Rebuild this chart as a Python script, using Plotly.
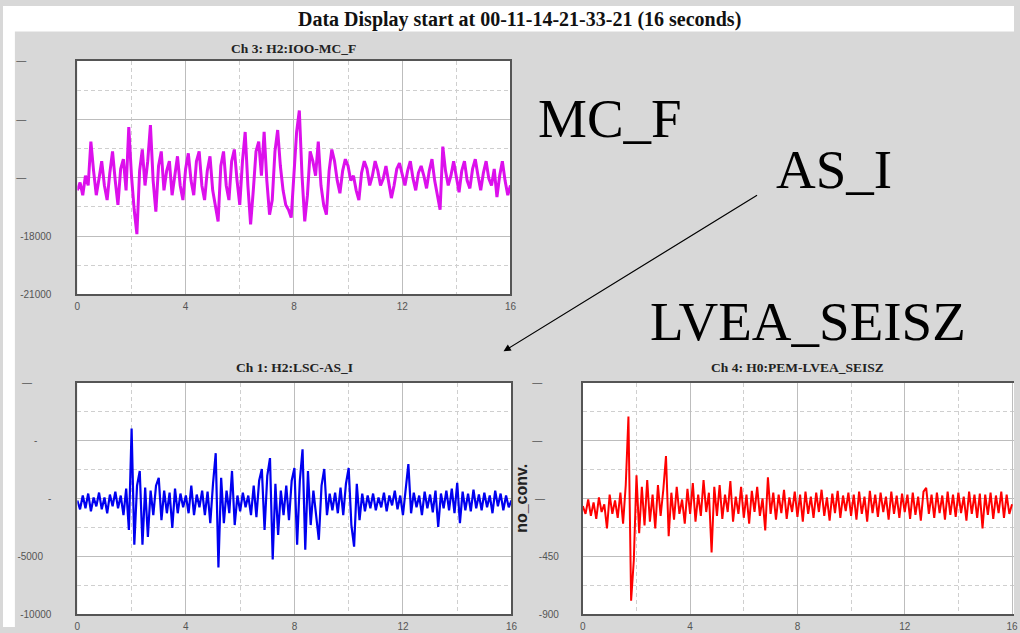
import plotly.graph_objects as go

# ---------------- data ----------------
time_s = [round(i * 0.1, 1) for i in range(161)]

mc_f = [-15650, -15250, -15900, -14900, -15400, -13150, -14650, -15900, -15050, -14150,
        -15400, -16150, -14750, -13650, -15150, -16400, -14550, -14050, -15650, -12400,
        -14900, -16650, -17900, -14650, -13550, -15400, -14150, -12300, -15150, -16750,
        -14400, -13650, -15650, -14650, -14150, -15900, -14900, -13900, -15400, -16150,
        -14550, -13750, -15150, -15900, -14150, -13650, -15400, -16150, -14650, -13900,
        -15650, -16400, -17250, -14400, -13650, -15400, -16150, -14150, -13550, -15150,
        -16400, -14150, -12650, -15400, -17400, -15650, -13650, -13150, -14900, -12650,
        -15150, -16900, -16150, -13650, -12550, -14400, -15650, -16400, -16650, -17050,
        -14900, -12650, -11550, -14900, -17250, -15900, -13650, -14150, -14900, -13150,
        -15400, -16400, -16900, -14650, -13550, -14150, -15150, -15800, -14650, -14050,
        -14400, -15150, -14900, -15650, -16150, -14750, -14150, -14550, -15400, -14900,
        -14150, -14650, -15400, -15050, -14400, -15150, -16050, -15400, -14550, -14250,
        -14900, -15400, -14650, -14150, -15050, -15650, -14750, -14400, -14900, -15550,
        -14650, -14050, -15150, -15900, -16650, -13400, -14650, -15400, -14900, -14150,
        -15050, -15750, -14650, -14150, -15150, -15550, -14550, -14050, -14900, -15650,
        -14750, -14150, -15050, -15400, -14550, -16000, -14900, -14150, -15150, -15900,
        -15400]

as_i = [-170, -935, 255, -850, 425, -1105, 85, -680, 510, -935,
        85, -1275, 340, -680, 595, -850, 255, -1445, 850, -2720,
        6035, -3995, 1105, 2380, -3995, 935, -3315, 680, -1445, 1105,
        1785, -1870, 680, -1275, 510, -2550, 850, -1275, 425, -765,
        255, -1275, 1105, -1445, 340, -765, 680, -1445, 595, -2125,
        1275, 3910, -5950, 1785, -2125, 680, -1275, 2380, -2295, 255,
        -1105, 510, -765, 255, -1445, 1105, -1615, 1530, 2550, -2720,
        1955, 3485, -5270, 1275, -3145, 680, -1445, 1105, -1870, 1530,
        2635, -3995, 1530, 4250, -4420, 2380, -2295, 680, -1445, -3570,
        1105, 2550, -1445, 425, -1020, 510, -1275, 935, -1445, 1275,
        2635, -2295, -4165, 1275, -1870, 425, -1105, 255, -850, 425,
        -1020, 85, -765, 510, -1105, 255, -595, 680, -935, 255,
        -1445, 680, 2975, -1275, 510, -765, 255, -1445, 595, -850,
        340, -1190, 680, -2465, 425, -850, 680, -1020, 850, -1275,
        1360, -2125, 595, -1020, 425, -1105, 765, -850, 340, -1020,
        510, -765, 255, -1275, 680, -680, 425, -1020, 255, -765,
        -170]

lvea_seisz = [-60, -120, -8, -135, -30, -158, 8, -105, -45, -233,
              30, -120, -15, -150, 45, -195, 105, 638, -795, -480,
              180, -270, 90, -210, 143, -180, 30, -233, 105, -135,
              68, 330, -293, 45, -165, 90, -120, -8, -195, 75,
              -120, 120, -180, 30, -135, 143, -105, 45, -420, 90,
              -135, 105, -158, 30, -105, 135, -180, 15, -120, 90,
              -150, 30, -195, 60, -105, 90, -135, 0, -248, 165,
              -120, 45, -165, 30, -113, 68, -158, 8, -105, 53,
              -143, 30, -180, 53, -120, 15, -150, 45, -105, 68,
              -135, 8, -173, 38, -113, 60, -150, 23, -98, 45,
              -135, 30, -165, 53, -120, 15, -180, 60, -113, 30,
              -143, 45, -105, 15, -165, 53, -120, 23, -150, 38,
              -105, 30, -158, 45, -128, 15, -173, 53, 83, -120,
              30, -150, 45, -113, 23, -165, 53, -128, 30, -143,
              45, -113, 15, -173, 53, -120, 30, -150, 38, -233,
              30, -128, 45, -158, 23, -113, 53, -150, 30, -120,
              -45]

x_ticks = [0, 4, 8, 12, 16]
x_ticktext = ["0", "4", "8", "12", "16"]

NB = "\u00a0"
top_yticks = [-21000, -18000, -15000, -12000, -9000]
top_yticktext = ["-21000", "-18000", "\u2014" + NB * 9, "\u2014" + NB * 9, "\u2014" + NB * 9]
bl_yticks = [-10000, -5000, 0, 5000, 10000]
bl_yticktext = ["-10000", "-5000" + NB * 3, "-", "-" + NB * 5, "\u2014" + NB * 7]
br_yticks = [-900, -450, 0, 450, 900]
br_yticktext = ["-900", "-450", "\u2014" + NB * 5, "\u2014" + NB * 6, "\u2014" + NB * 6]

title_text = "Data Display start at 00-11-14-21-33-21 (16 seconds)"
ch_titles = ["Ch 3: H2:IOO-MC_F", "Ch 1: H2:LSC-AS_I", "Ch 4: H0:PEM-LVEA_SEISZ"]
big_labels = ["MC_F", "AS_I", "LVEA_SEISZ"]

# ---------------- figure ----------------
W, H = 1020, 633
def px(x):
    return x / W
def py(y):
    return 1 - y / H

GRAY = "#d8d8d8"
FRAME = "#555555"
GRID = "#bdbdbd"
MINOR = "#cfcfcf"
TICKFONT = dict(family="Liberation Sans, Arial, sans-serif", size=10, color="#555555")

fig = go.Figure()
fig.add_trace(go.Scatter(x=time_s, y=mc_f, mode="lines", xaxis="x", yaxis="y",
                         line=dict(color="#dc10ec", width=3), showlegend=False))
fig.add_trace(go.Scatter(x=time_s, y=as_i, mode="lines", xaxis="x2", yaxis="y2",
                         line=dict(color="#0000f0", width=2.2), showlegend=False))
fig.add_trace(go.Scatter(x=time_s, y=lvea_seisz, mode="lines", xaxis="x3", yaxis="y3",
                         line=dict(color="#ff0000", width=2), showlegend=False))

def xaxis(domain, anchor, rng, mirror=True):
    return dict(domain=domain, anchor=anchor, range=rng, tickvals=x_ticks, ticktext=x_ticktext,
                showline=True, linecolor=FRAME, linewidth=2, mirror=mirror,
                showgrid=True, gridcolor=GRID, gridwidth=1, zeroline=False,
                ticks="", tickfont=TICKFONT, ticklabelstandoff=2,
                minor=dict(dtick=2, tick0=0, showgrid=True, gridcolor=MINOR,
                           griddash="4px,3px", gridwidth=1, ticks=""))

def yaxis(domain, anchor, rng, vals, text, mirror=True):
    step = (vals[1] - vals[0]) / 2
    return dict(domain=domain, anchor=anchor, range=rng, tickvals=vals, ticktext=text,
                showline=True, linecolor=FRAME, linewidth=2, mirror=mirror,
                showgrid=True, gridcolor=GRID, gridwidth=1, zeroline=False,
                ticks="", tickfont=TICKFONT, ticklabelstandoff=22,
                minor=dict(dtick=step, tick0=vals[0], showgrid=True, gridcolor=MINOR,
                           griddash="4px,3px", gridwidth=1, ticks=""))

top_y = [py(294), py(56)]
bot_y = [py(620), py(384)]

fig.update_layout(
    autosize=True,
    margin=dict(l=0, r=0, t=0, b=0),
    paper_bgcolor=GRAY, plot_bgcolor="white",
    showlegend=False,
    xaxis=xaxis([px(75), px(512)], "y", [0, 16]),
    yaxis=yaxis(top_y, "x", [-21000, -9000], top_yticks, top_yticktext),
    xaxis2=xaxis([px(75), px(513)], "y2", [0, 16]),
    yaxis2=yaxis(bot_y, "x2", [-10000, 10000], bl_yticks, bl_yticktext),
    xaxis3=xaxis([px(585), 1.0], "y3", [0, 16 * (1020 - 585) / (1018 - 585)]),
    yaxis3=yaxis(bot_y, "x3", [-900, 900], br_yticks, br_yticktext, mirror=False),
)
fig.update_layout(yaxis3=dict(ticklabelstandoff=20))

# white margins of the scanned display (top band and left strip)
fig.add_shape(type="rect", xref="paper", yref="paper", x0=0, x1=1, y0=py(26), y1=1,
              fillcolor="white", line=dict(width=0), layer="below")
fig.add_shape(type="rect", xref="paper", yref="paper", x0=0, x1=px(12), y0=0, y1=1,
              fillcolor="white", line=dict(width=0), layer="below")

SERIF = "Liberation Serif, Times New Roman, serif"
ann = []
ann.append(dict(text="<b>" + title_text + "</b>", x=px(521), y=py(14), xref="paper", yref="paper",
                showarrow=False, font=dict(family=SERIF, size=20, color="#111111"),
                xanchor="center", yanchor="middle"))
ann.append(dict(text="<b>" + ch_titles[0] + "</b>", x=0.5, y=py(43), xref="x domain", yref="paper",
                showarrow=False, font=dict(family=SERIF, size=13.5, color="#222222"),
                xanchor="center", yanchor="middle"))
ann.append(dict(text="<b>" + ch_titles[1] + "</b>", x=0.5, y=py(368), xref="x2 domain", yref="paper",
                showarrow=False, font=dict(family=SERIF, size=13.5, color="#222222"),
                xanchor="center", yanchor="middle"))
ann.append(dict(text="<b>" + ch_titles[2] + "</b>", x=px(802), y=py(368), xref="paper", yref="paper",
                showarrow=False, font=dict(family=SERIF, size=13.5, color="#222222"),
                xanchor="center", yanchor="middle"))
ann.append(dict(text="<b>no_conv.</b>", x=px(523), y=py(502), xref="paper", yref="paper", textangle=-90,
                showarrow=False, font=dict(family="Liberation Sans, Arial, sans-serif", size=16, color="#222222"),
                xanchor="center", yanchor="middle"))
big_pos = [(538, 115), (778, 167), (651, 322)]
for lbl, (bx, by) in zip(big_labels, big_pos):
    ann.append(dict(text=lbl, x=px(bx), y=py(by), xref="paper", yref="paper", showarrow=False,
                    font=dict(family=SERIF, size=55, color="black"),
                    xanchor="left", yanchor="middle"))
# arrow from below "AS_I" down to the AS_I panel (tail offset given in screen pixels)
ann.append(dict(text="", x=px(505), y=py(352), ax=760 - 505, ay=195 - 352, xref="paper", yref="paper",
                axref="pixel", ayref="pixel", showarrow=True, arrowhead=2, arrowsize=1.2,
                arrowwidth=1.2, arrowcolor="black", standoff=0, startstandoff=0))
fig.update_layout(annotations=ann)

fig.write_html(
    "out.html",
    default_width="100vw",
    default_height="100vh",
    config={"displayModeBar": False, "responsive": True},
    post_script="document.body.style.margin='0px';document.body.style.overflow='hidden';"
                "document.documentElement.style.overflow='hidden';"
                "Plotly.Plots.resize(document.getElementById('{plot_id}'));",
)
